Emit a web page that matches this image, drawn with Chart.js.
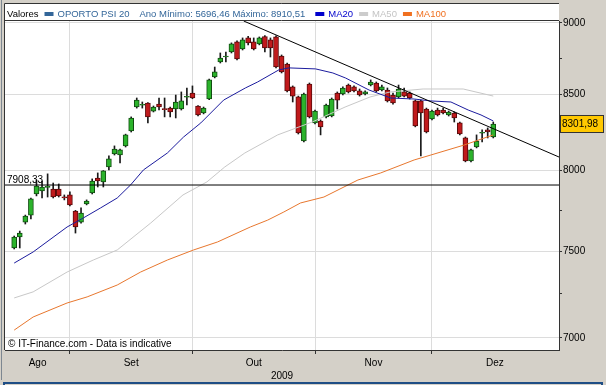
<!DOCTYPE html>
<html>
<head>
<meta charset="utf-8">
<script src="https://cdn.jsdelivr.net/npm/chart.js@4.4.1/dist/chart.umd.min.js"></script>
<style>
  html, body { margin: 0; padding: 0; background: #d4d0c8; }
  #wrap { width: 606px; height: 385px; }
</style>
</head>
<body>
<div id="wrap"><canvas id="chart" width="606" height="385"></canvas></div>
<script>
// PSI 20 daily candles, one per trading day (0 = 18 Aug 2009)
const opens  = [7521,7587,7678,7721,7852,7871,7893,7883,7883,7834,7846,7746,7678,7790,7858,7953,7928,8023,8107,8100,
                8159,8257,8416,8428,8443,8389,8436,8405,8409,8403,8403,8482,8511,8423,8376,8470,8620,8724,8759,8794,
                8865,8815,8893,8865,8851,8903,8879,8900,8766,8710,8552,8484,8191,8572,8310,8323,8350,8356,8511,8504,
                8565,8552,8525,8504,8565,8579,8531,8531,8497,8484,8518,8511,8457,8457,8403,8336,8396,8396,8363,8376,
                8310,8211,8062,8152,8242,8264,8217];
const highs  = [7593,7623,7721,7826,7940,7934,7979,7921,7915,7846,7865,7750,7765,7815,7947,7985,8000,8094,8159,8139,
                8236,8350,8477,8450,8446,8423,8477,8477,8416,8497,8518,8545,8559,8426,8416,8605,8689,8787,8794,8858,
                8872,8893,8905,8893,8900,8910.51,8893,8908,8773,8717,8559,8490,8511,8579,8396,8330,8436,8477,8518,8552,
                8572,8559,8538,8525,8600,8586,8565,8545,8511,8565,8545,8518,8463,8463,8409,8396,8409,8409,8389,8383,
                8316,8217,8139,8231,8264,8277,8316];
const lows   = [7515,7521,7666,7697,7840,7827,7833,7827,7833,7815,7778,7611,7672,7784,7852,7896,7896,8004,8100,8049,
                8152,8250,8409,8409,8310,8383,8396,8350,8350,8343,8396,8430,8472,8356,8370,8465,8614,8717,8724,8787,
                8738,8808,8844,8808,8844,8794,8759,8682,8648,8518,8450,8237,8185,8343,8303,8231,8343,8350,8403,8497,
                8511,8518,8490,8497,8559,8518,8525,8450,8436,8477,8484,8470,8284,8094,8244,8330,8356,8370,8356,8316,
                8231,8056,8056,8146,8185,8211,8211];
const closes = [7587,7611,7715,7821,7902,7896,7900,7833,7840,7828,7784,7648,7734,7808,7934,7934,7998,8075,8139,8133,
                8231,8343,8463,8434,8350,8416,8416,8399,8383,8450,8457,8488,8477,8363,8409,8600,8655,8752,8766,8851,
                8745,8879,8858,8815,8893,8822,8822,8689,8655,8525,8490,8244,8504,8350,8389,8284,8430,8470,8463,8545,
                8518,8525,8497,8518,8586,8525,8552,8457,8443,8538,8490,8477,8290,8376,8250,8389,8363,8376,8383,8343,
                8237,8062,8133,8191,8248,8250,8301.98];

// moving averages: [trading day, value]
const ma20 = [[0,7431],[3.4,7497],[9.5,7648],[12.4,7703],[15.5,7765],[18.5,7827],[20.9,7909],[23.2,8004],[27.5,8113],
              [30.4,8217],[33.5,8310],[37.6,8463],[41.5,8545],[43.7,8586],[47.5,8669],[49.3,8683],[54.1,8676],[57.2,8648],
              [59.5,8613],[63.7,8531],[67.6,8477],[71.8,8470],[74.8,8457],[78.4,8450],[81.5,8396],[83.8,8363],[86,8323]];
const ma50 = [[0,7227],[3.4,7262],[9.5,7378],[14.2,7449],[18.5,7509],[24.5,7672],[30.3,7846],[34.6,7928],[37.8,8023],
              [41.4,8113],[47.3,8231],[53.5,8316],[59.4,8416],[63.9,8484],[67.5,8518],[73.4,8538],[80.6,8538],[86,8490]];
const ma100 = [[0,7044],[3.4,7118],[9.5,7198],[13.1,7233],[18.5,7302],[22.7,7378],[27.5,7449],[32.2,7509],[36.5,7557],
               [42.4,7648],[45.5,7690],[48.4,7740],[51.4,7796],[55.6,7833],[61.7,7940],[65.8,7985],[71.8,8068],[74.8,8100],
               [80.8,8165],[86,8231]];

const trendLine = [[41.2, 9014], [97.8, 8087]];
const supportLevel = 7908.33;

const monthStarts = [10, 32, 54, 75];
const monthLabels = ['Ago', 'Set', 'Out', 'Nov', 'Dez'];
const monthLabelAt = [4.2, 21, 43, 64.5, 86.3];
const yTicks = [7000, 7250, 7500, 7750, 8000, 8250, 8500, 8750, 9000];
const xMin = -1.65, xMax = 97.8;
const yMin = 6933, yMax = 9014;

const GREEN = '#2bb32b', GREEN_EDGE = '#114d11';
const RED = '#c01a1c', RED_EDGE = '#5a0a0a';
const FONT = "'Liberation Sans', Arial, sans-serif";

const toXY = pts => pts.map(([x, y]) => ({x, y}));
const comma = v => v.toFixed(2).replace('.', ',');
const isUp = i => closes[i] >= opens[i];

Chart.defaults.font.family = FONT;
Chart.defaults.font.size = 10;
Chart.defaults.color = '#000';

const legendItems = [
  {text: 'Valores', color: '#000'},
  {box: '#336699', text: 'OPORTO PSI 20', color: '#336699'},
  {text: 'Ano Mínimo: 5696,46 Máximo: 8910,51', color: '#336699', gap: 10},
  {box: '#0000cc', text: 'MA20', color: '#0000cc', gap: 10},
  {box: '#cccccc', text: 'MA50', color: '#c4c4c4'},
  {box: '#f07020', text: 'MA100', color: '#f07020'}
];

const decor = {
  id: 'decor',
  beforeDraw(chart) {
    const {ctx, chartArea: a} = chart;
    ctx.save();
    ctx.fillStyle = '#d4d0c8';
    ctx.fillRect(0, 0, chart.width, chart.height);
    ctx.fillStyle = '#ffffff';
    ctx.fillRect(4, 3, a.right - 4, a.bottom - 3);
    ctx.restore();
  },
  afterDraw(chart) {
    const {ctx, chartArea: a, scales} = chart;
    ctx.save();
    // frame
    ctx.strokeStyle = '#333';
    ctx.lineWidth = 1;
    ctx.beginPath();
    ctx.moveTo(4.5, a.bottom); ctx.lineTo(4.5, 3.5); ctx.lineTo(a.right, 3.5);
    ctx.moveTo(4, 20.5); ctx.lineTo(a.right, 20.5);
    ctx.stroke();
    ctx.strokeStyle = '#7d8791';
    ctx.beginPath(); ctx.moveTo(1.5, 0); ctx.lineTo(1.5, 380); ctx.stroke();
    ctx.strokeStyle = '#1f4e85';
    ctx.lineWidth = 2;
    ctx.strokeRect(4, 383, 598, 10);

    // legend
    ctx.font = '9.5px ' + FONT;
    ctx.textBaseline = 'alphabetic';
    let x = 7;
    legendItems.forEach((it, k) => {
      if (k > 0) x += it.gap || 6;
      if (it.box) {
        ctx.fillStyle = it.box;
        ctx.fillRect(x, 12, 9, 4);
        x += 13;
      }
      ctx.fillStyle = it.color;
      ctx.fillText(it.text, x, 17);
      x += ctx.measureText(it.text).width;
    });

    // support level label
    const ys = scales.y.getPixelForValue(supportLevel);
    ctx.font = '10px ' + FONT;
    ctx.fillStyle = '#000';
    ctx.textBaseline = 'alphabetic';
    ctx.fillText(comma(supportLevel), 7, ys - 2);

    // watermark
    ctx.fillText('\u00a9 IT-Finance.com - Data is indicative', 8, 347);

    // last price tag
    const last = closes[closes.length - 1];
    const yp = Math.round(scales.y.getPixelForValue(last));
    ctx.fillStyle = '#ffc800';
    ctx.fillRect(561, yp - 8, 42, 16);
    ctx.strokeStyle = '#333';
    ctx.lineWidth = 1;
    ctx.strokeRect(560.5, yp - 8.5, 43, 17);
    ctx.fillStyle = '#000';
    ctx.textBaseline = 'middle';
    ctx.fillText(comma(last), 562, yp + 0.5);
    ctx.restore();
  }
};

new Chart(document.getElementById('chart'), {
  type: 'bar',
  data: {
    datasets: [
      {type: 'line', data: toXY(trendLine), borderColor: '#000', borderWidth: 1, pointRadius: 0, order: 1},
      {type: 'line', data: [{x: xMin, y: supportLevel}, {x: xMax, y: supportLevel}], borderColor: '#000', borderWidth: 1, pointRadius: 0, order: 1},
      {type: 'line', data: toXY(ma20), borderColor: '#1c1c9e', borderWidth: 1, pointRadius: 0, order: 2},
      {type: 'line', data: toXY(ma50), borderColor: '#c8c8c8', borderWidth: 1, pointRadius: 0, order: 3},
      {type: 'line', data: toXY(ma100), borderColor: '#e8772e', borderWidth: 1, pointRadius: 0, order: 3},
      {
        type: 'bar',
        data: opens.map((o, i) => ({x: i, y: [o, closes[i]]})),
        backgroundColor: c => isUp(c.dataIndex) ? GREEN : RED,
        borderColor: c => isUp(c.dataIndex) ? GREEN_EDGE : RED_EDGE,
        borderWidth: 1, borderSkipped: false, barThickness: 5, grouped: false, order: 4
      },
      {
        type: 'bar',
        data: lows.map((l, i) => ({x: i, y: [l, highs[i]]})),
        backgroundColor: '#1a1a1a', barThickness: 1, grouped: false, order: 5
      }
    ]
  },
  options: {
    responsive: false,
    animation: false,
    devicePixelRatio: 1,
    layout: {padding: {left: 5, top: 21, right: 0, bottom: 0}},
    plugins: {legend: {display: false}, tooltip: {enabled: false}},
    scales: {
      x: {
        type: 'linear', min: xMin, max: xMax, offset: false,
        afterBuildTicks: s => { s.ticks = monthStarts.concat(monthLabelAt).sort((a, b) => a - b).map(v => ({value: v})); },
        afterFit: s => { s.height = 35; },
        grid: {
          offset: false, tickLength: 4,
          color: c => c.tick && monthStarts.includes(c.tick.value) ? '#dcdcdc' : 'rgba(0,0,0,0)',
          tickColor: c => c.tick && monthStarts.includes(c.tick.value) ? '#333' : 'rgba(0,0,0,0)'
        },
        border: {color: '#333'},
        ticks: {
          autoSkip: false, maxRotation: 0, padding: 3,
          callback: v => { const k = monthLabelAt.indexOf(v); return k >= 0 ? monthLabels[k] : ''; }
        },
        title: {display: true, text: '2009', padding: {top: 0, bottom: 3}}
      },
      y: {
        type: 'logarithmic', position: 'right', min: yMin, max: yMax,
        afterBuildTicks: s => { s.ticks = yTicks.map(v => ({value: v})); },
        afterFit: s => { s.width = 606 - 559; },
        grid: {
          tickLength: 3, tickColor: '#333',
          color: c => c.tick && c.tick.value % 500 === 0 ? '#dcdcdc' : 'rgba(0,0,0,0)'
        },
        border: {color: '#333'},
        ticks: {padding: 1, autoSkip: false, callback: v => v % 500 === 0 ? String(v) : ''}
      }
    }
  },
  plugins: [decor]
});
</script>
</body>
</html>
